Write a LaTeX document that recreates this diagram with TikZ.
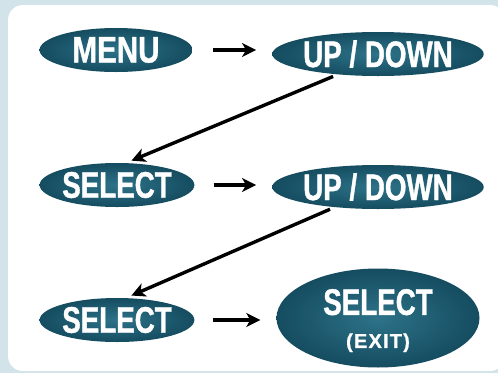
\documentclass[tikz,border=0pt]{standalone}
\usepackage{fontspec}
\newfontfamily\lblfont{Liberation Sans}[FakeStretch=0.75,FakeBold=1]
\newfontfamily\menufont{Liberation Sans}[FakeStretch=0.8,FakeBold=1]
\newfontfamily\exitfont{Liberation Sans}[LetterSpace=6,FakeBold=1]
\usetikzlibrary{shapes.geometric,arrows.meta}
\definecolor{bgblue}{HTML}{D2E3EA}
\definecolor{tealin}{HTML}{2D7389}
\definecolor{tealout}{HTML}{154C60}
\tikzset{
  oval/.style={ellipse, inner sep=0pt, minimum width=153pt, minimum height=44pt,
    inner color=tealin, outer color=tealout, text=white,
    font=\lblfont\bfseries\fontsize{37}{37}\selectfont},
  wideoval/.style={oval, minimum width=203pt, minimum height=44pt},
  flow/.style={line width=3.4pt, -{Stealth[length=14pt,width=14pt,inset=4pt]}},
}
\begin{document}
\begin{tikzpicture}[x=1pt,y=-1pt]
\useasboundingbox (0,0) rectangle (498,373);
\fill[bgblue] (0,0) rectangle (498,373);
\begin{scope}
\clip (0,0) rectangle (498,373);
\fill[white, rounded corners=15pt] (8,5) rectangle (505,371);
\end{scope}
\node[oval, font=\menufont\bfseries\fontsize{37}{37}\selectfont] (menu) at (116,50) {MENU};
\node[wideoval] (ud1) at (378,54) {UP / DOWN};
\node[oval] (sel1) at (117,185) {SELECT};
\node[wideoval] (ud2) at (378,187) {UP / DOWN};
\node[oval] (sel2) at (117,320) {SELECT};
\node[wideoval, minimum height=70pt] (exit) at (378,318)
  {\raisebox{-6pt}[\height][\depth]{\begin{tabular}{@{}c@{}}SELECT\\[-4pt]{\exitfont\bfseries\fontsize{20}{20}\selectfont(EXIT)}\end{tabular}}};
\draw[flow, shorten <=20pt, shorten >=16pt] (menu.east) -- (menu.east -| ud1.west);
\draw[flow, shorten <=5pt, shorten >=6pt] (ud1.207) -- (sel1.68);
\draw[flow, shorten <=19pt, shorten >=16pt] (sel1.east) -- (sel1.east -| ud2.west);
\draw[flow, shorten <=5pt, shorten >=6pt] (ud2.205) -- (sel2.68);
\draw[flow, shorten <=18pt, shorten >=16pt] (sel2.east) -- (sel2.east -| exit.west);
\end{tikzpicture}
\end{document}
